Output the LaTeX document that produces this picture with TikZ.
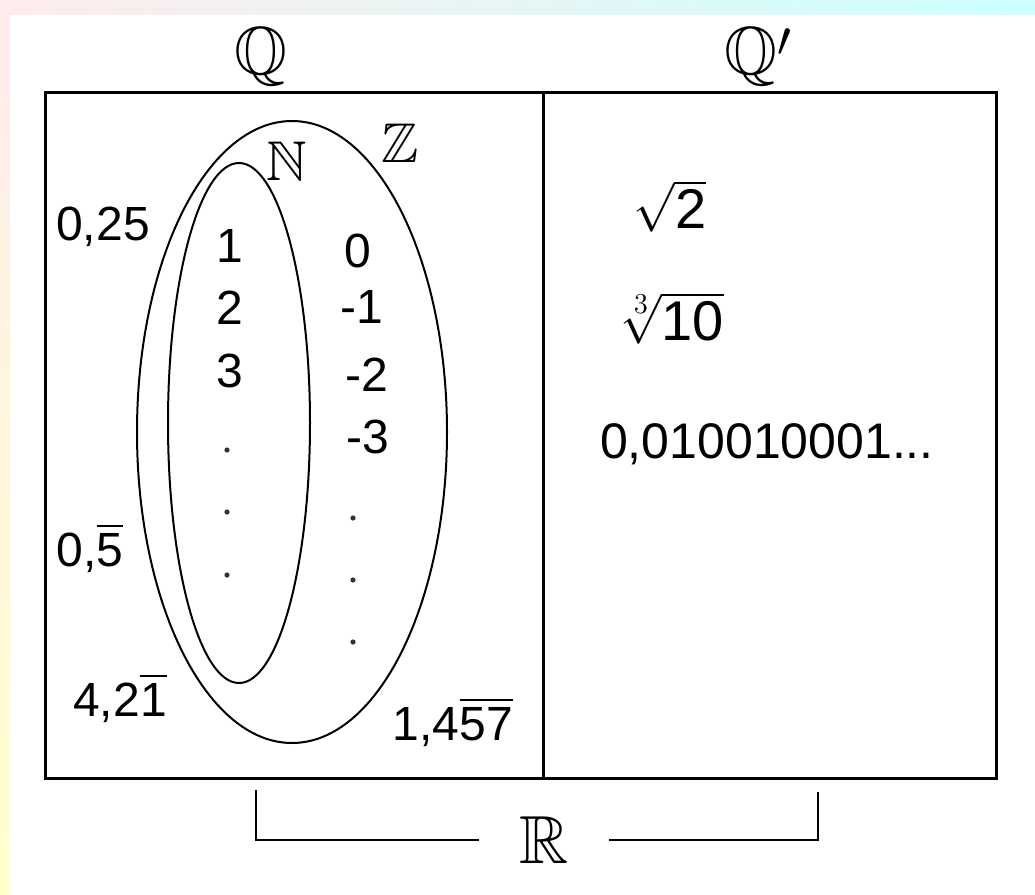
\documentclass[tikz,border=0pt]{standalone}
\usepackage{amssymb}
\usepackage{fontspec}
\setmainfont{Liberation Sans}
\begin{document}
\begin{tikzpicture}[x=0.5pt,y=-0.5pt,line width=1pt,
    num/.style={font=\fontsize{24}{28}\selectfont,inner sep=0pt},
    root/.style={font=\fontsize{28}{32}\selectfont,inner sep=0pt},
    setname/.style={font=\fontsize{34}{38}\selectfont,inner sep=0pt},
    pt/.style={fill=black!80}]
	  \useasboundingbox (0,0) rectangle (1035,895);
	  % slide background
	  \shade[left color=pink!30,right color=cyan!20] (0,0) rectangle (1035,14);
	  \shade[top color=pink!30,bottom color=yellow!20] (0,14) rectangle (10,895);
	  % frame
	  \draw[line width=1.5pt] (45,92) rectangle (996,778);
	  \draw[line width=1.5pt] (543,92) -- (543,778);
	  \node[setname] (Q) at (261,57) {$\mathbb{Q}$};
	  \node[setname] (Qp) at (758,57) {$\mathbb{Q}'$};
	  % Z and N
	  \draw (292,432) ellipse [x radius=155,y radius=311];
	  \draw (239,423) ellipse [x radius=71,y radius=260];
	  \node[setname,font=\fontsize{28}{32}\selectfont] (N) at (287,161) {$\mathbb{N}$};
	  \node[setname,font=\fontsize{28}{32}\selectfont] (Z) at (400,143) {$\mathbb{Z}$};
	  \node[num] (n1) at (230,246) {1};
	  \node[num] (n2) at (230,308) {2};
	  \node[num] (n3) at (230,371) {3};
	  \node[num] (z0) at (358,251) {0};
	  \node[num] (z1) at (362,307) {-1};
	  \node[num] (z2) at (367,375) {-2};
	  \node[num] (z3) at (368,437) {-3};
	  \foreach \y in {450,512,575} \fill[pt] (227,\y) circle (2.6);
	  \foreach \y in {518,580,642} \fill[pt] (353,\y) circle (2.6);
	  % rationals
	  \node[num] (q1) at (103,227) {0,25};
	  \node[num,anchor=base] (q2) at (90,566) {0,$\overline{\mbox{5}}$};
	  \node[num,anchor=base] (q3) at (120,716) {4,2$\overline{\mbox{1}}$};
	  \node[num,anchor=base] (q4) at (453,740) {1,4$\overline{\mbox{57}}$};
	  % irrationals
	  \node[root] (i1) at (670,206) {$\sqrt{\mbox{2}}$};
	  \node[root] (i2) at (672,318) {$\sqrt[3]{\mbox{10}}$};
	  \node[num,font=\fontsize{25}{29}\selectfont] (i3) at (767,444) {0,010010001...};
	  % R bracket
	  \node[setname,minimum width=64pt] (R) at (544,840) {$\mathbb{R}$};
	  \coordinate (rl) at (256,790);
	  \coordinate (rr) at (818,792);
	  \draw (rl) |- (R.west);
	  \draw (rr) |- (R.east);
\end{tikzpicture}
\end{document}
